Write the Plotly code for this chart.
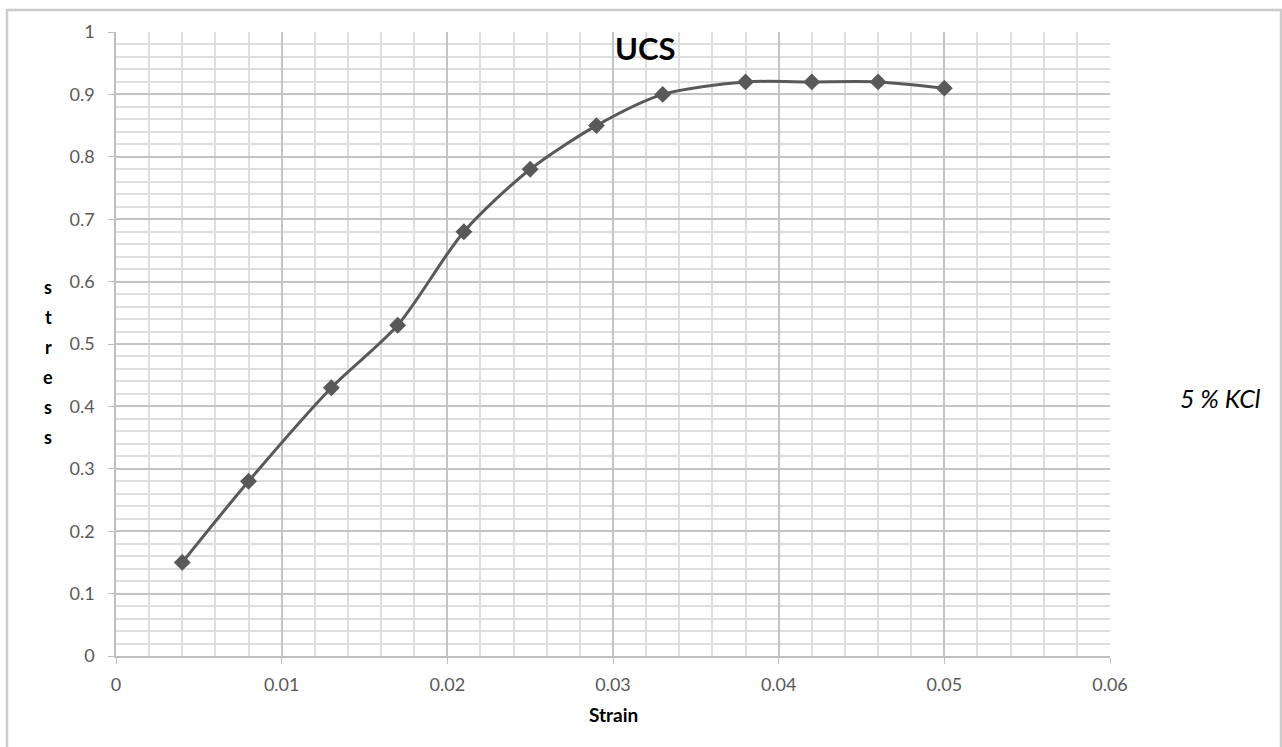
import plotly.graph_objects as go

strain = [0.004, 0.008, 0.013, 0.017, 0.021, 0.025, 0.029, 0.033, 0.038, 0.042, 0.046, 0.050]
stress = [0.15, 0.28, 0.43, 0.53, 0.68, 0.78, 0.85, 0.90, 0.92, 0.92, 0.92, 0.91]
x_ticks = [0, 0.01, 0.02, 0.03, 0.04, 0.05, 0.06]
x_tick_labels = ["0", "0.01", "0.02", "0.03", "0.04", "0.05", "0.06"]
y_ticks = [0, 0.1, 0.2, 0.3, 0.4, 0.5, 0.6, 0.7, 0.8, 0.9, 1]
y_tick_labels = ["0", "0.1", "0.2", "0.3", "0.4", "0.5", "0.6", "0.7", "0.8", "0.9", "1"]
y_title_letters = ["s", "t", "r", "e", "s", "s"]

FONT = "Lato, Carlito, Calibri, sans-serif"
fig = go.Figure()
fig.add_trace(go.Scatter(
    x=strain, y=stress, mode="lines+markers",
    line=dict(color="#595959", width=3, shape="spline", smoothing=0.8),
    marker=dict(symbol="diamond", size=13, color="#595959"),
    showlegend=False, cliponaxis=False,
))

annotations = [
    dict(text="<b>UCS</b>", xref="paper", yref="paper", x=(645 - 116) / 994, y=(656 - 48) / 624,
         showarrow=False, font=dict(size=31, color="#000000", family=FONT), xanchor="center", yanchor="middle"),
    dict(text="<i>5 % KCl</i>", xref="paper", yref="paper", x=(1220 - 116) / 994, y=(656 - 398) / 624,
         showarrow=False, font=dict(size=25, color="#000000", family=FONT), xanchor="center", yanchor="middle"),
]
for i, ch in enumerate(y_title_letters):
    annotations.append(dict(text="<b>" + ch + "</b>", xref="paper", yref="paper", x=(48 - 116) / 994,
                            y=(656 - (287 + 30 * i)) / 624, showarrow=False,
                            font=dict(size=18, color="#000000", family=FONT),
                            xanchor="center", yanchor="middle"))
annotations.append(dict(text="<b>Strain</b>", xref="paper", yref="paper", x=(613 - 116) / 994,
                        y=(656 - 715) / 624, showarrow=False,
                        font=dict(size=19, color="#000000", family=FONT),
                        xanchor="center", yanchor="middle"))

fig.update_layout(
    width=1282, height=747,
    margin=dict(l=116, r=172, t=32, b=91),
    paper_bgcolor="white", plot_bgcolor="white",
    font=dict(family=FONT, color="#595959", size=15),
    xaxis=dict(
        range=[0, 0.06], tickvals=x_ticks, ticktext=x_tick_labels,
        showgrid=True, gridcolor="#c4c4c4", gridwidth=1.5,
        minor=dict(dtick=0.002, showgrid=True, gridcolor="#dedede", gridwidth=1.5),
        showline=True, linecolor="#bfbfbf", linewidth=1.5,
        ticks="outside", ticklen=6, tickcolor="#bfbfbf",
        zeroline=False, tickfont=dict(size=18, color="#595959"),
        ticklabelstandoff=6,
    ),
    yaxis=dict(
        range=[0, 1], tickvals=y_ticks, ticktext=y_tick_labels,
        showgrid=True, gridcolor="#c4c4c4", gridwidth=1.5,
        minor=dict(dtick=0.02, showgrid=True, gridcolor="#dedede", gridwidth=1.5),
        showline=True, linecolor="#bfbfbf", linewidth=1.5,
        ticks="outside", ticklen=6, tickcolor="#bfbfbf",
        zeroline=False, tickfont=dict(size=18, color="#595959"),
        ticklabelstandoff=10,
    ),
    shapes=[dict(type="rect", xref="paper", yref="paper",
                 x0=-109/994, x1=1165/994, y0=-0.2, y1=(656 - 10) / 624,
                 line=dict(color="#cccccc", width=2.5), fillcolor="rgba(0,0,0,0)", layer="below")],
    annotations=annotations,
)
fig.write_html("out.html", config={"displayModeBar": False},
               post_script="document.body.style.margin='0';document.body.style.overflow='hidden';")
